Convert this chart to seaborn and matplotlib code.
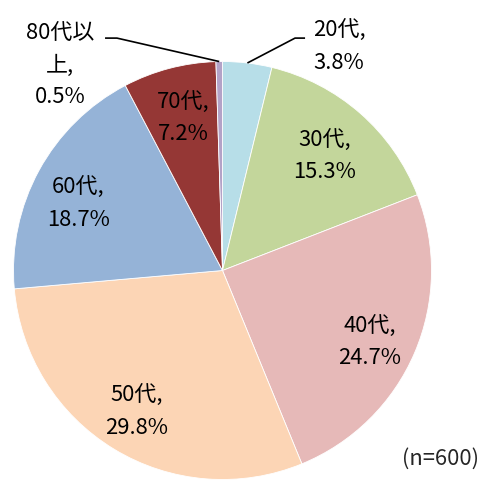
import numpy as np
import matplotlib
matplotlib.use("Agg")
import matplotlib.pyplot as plt
import seaborn as sns

# Age-group shares of respondents
groups = ["20代", "30代", "40代", "50代", "60代", "70代", "80代以上"]
shares = [3.8, 15.3, 24.7, 29.8, 18.7, 7.2, 0.5]
label_texts = ["20代,\n3.8%", "30代,\n15.3%", "40代,\n24.7%", "50代,\n29.8%",
               "60代,\n18.7%", "70代,\n7.2%", "80代以\n上,\n0.5%"]
sample_note = "(n=600)"

colors = ["#b7dee8", "#c3d69b", "#e6b9b8", "#fcd5b5", "#95b3d7", "#953735", "#b3a2c7"]

sns.set_theme(style="white")
plt.rcParams["font.family"] = ["Noto Sans CJK JP", "DejaVu Sans"]
palette = sns.color_palette(colors)

fig = plt.figure(figsize=(4.83, 4.80), dpi=100)
ax = fig.add_axes([0, 0, 1, 1])

wedges, _ = ax.pie(shares, colors=palette, startangle=90, counterclock=False,
                   radius=1.0, wedgeprops=dict(edgecolor="white", linewidth=0.6))

ax.set_xlim(-1.0646, 1.2464)
ax.set_ylim(-1.0024, 1.2943)
ax.set_aspect("auto")
ax.axis("off")

fs = 15.8
ls = 1.55

# Label anchor points (pie units, radius = 1)
label_pos = [(0.557, 1.069), (0.490, 0.547), (0.706, -0.343), (-0.409, -0.677),
             (-0.691, 0.318), (-0.189, 0.729), (-0.778, 0.980)]

# Labels inside the larger slices
for i in range(1, 6):
    x, y = label_pos[i]
    ax.text(x, y, label_texts[i], ha="center", va="center",
            fontsize=fs, linespacing=ls, color="black")

# Outside labels with leader lines for the small slices
def leader(i, elbow, end):
    w = wedges[i]
    mid = np.deg2rad((w.theta1 + w.theta2) / 2)
    sx, sy = np.cos(mid), np.sin(mid)
    ax.plot([sx, elbow[0], end[0]], [sy, elbow[1], end[1]], color="black",
            linewidth=1.2, solid_capstyle="butt")
    x, y = label_pos[i]
    ax.text(x, y, label_texts[i], ha="center", va="center",
            fontsize=fs, linespacing=ls, color="black")

leader(0, (0.347, 1.112), (0.395, 1.112))
leader(6, (-0.505, 1.112), (-0.562, 1.112))

fig.text(479 / 483, 1 - 459 / 480, sample_note, ha="right", va="center", fontsize=fs)

fig.savefig("out.png", dpi=100)
